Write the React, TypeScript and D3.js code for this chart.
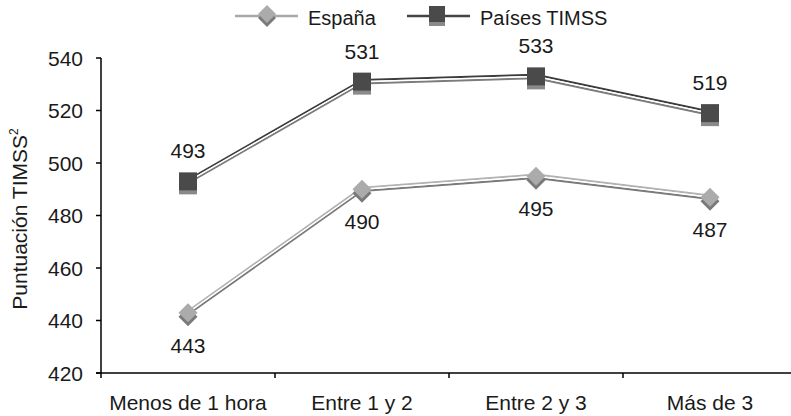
import React from "react";
import * as d3 from "d3";

const categories = ["Menos de 1 hora", "Entre 1 y 2", "Entre 2 y 3", "Más de 3"];
const espana = [443, 490, 495, 487];
const timss = [493, 531, 533, 519];
const yTicks = [420, 440, 460, 480, 500, 520, 540];
const seriesNames = ["España", "Países TIMSS"];

const W = 791;
const H = 416;
const FONT = "'Liberation Sans', Arial, Helvetica, sans-serif";
const TXT = "#1a1a1a";
const FS = 21;

export default function App() {
  const x = d3.scaleBand<string>().domain(categories).range([101, 797]);
  const y = d3.scaleLinear().domain([420, 540]).range([373, 58]);
  const cx = (c: string) => (x(c) as number) + x.bandwidth() / 2;
  const line = d3
    .line<number>()
    .x((_, i) => cx(categories[i]))
    .y((v) => y(v));

  const tube = (vals: number[], top: string, bottom: string, key: string) => {
    const d = line(vals) as string;
    return (
      <g key={key}>
        <path d={d} transform="translate(0,1.8)" fill="none" stroke={bottom} strokeWidth={2} strokeLinejoin="round" />
        <path d={d} transform="translate(0,-1.6)" fill="none" stroke={top} strokeWidth={2} strokeLinejoin="round" />
        <path d={d} fill="none" stroke="#ffffff" strokeWidth={1.4} strokeLinejoin="round" />
      </g>
    );
  };

  const diamond = (px: number, py: number, r: number, key: string) => (
    <g key={key}>
      <path d={`M${px},${py - r + 4}L${px + r},${py + 4}L${px},${py + r + 4}L${px - r},${py + 4}Z`} fill="#7a7a7a" />
      <path d={`M${px},${py - r}L${px + r},${py}L${px},${py + r}L${px - r},${py}Z`} fill="#ababab" />
    </g>
  );
  const square = (px: number, py: number, s: number, key: string) => (
    <g key={key}>
      <rect x={px - s / 2} y={py - s / 2 + 4} width={s} height={s} fill="#8a8a8a" />
      <rect x={px - s / 2} y={py - s / 2} width={s} height={s} fill="#4a4a4a" />
    </g>
  );

  const boundaries = categories.map((c) => x(c) as number).concat([(x(categories[3]) as number) + x.bandwidth()]);

  return (
    <svg width={W} height={H} style={{ position: "absolute", left: 0, top: 0, background: "#fff" }} fontFamily={FONT}>
      {/* legend */}
      <line x1={235} x2={298} y1={16} y2={16} stroke="#a8a8a8" strokeWidth={2.5} />
      {diamond(267, 14, 9, "lgd1")}
      <text x={308} y={25} fontSize={20} fill={TXT}>{seriesNames[0]}</text>
      <line x1={407} x2={470} y1={16} y2={16} stroke="#444" strokeWidth={2.5} />
      {square(437, 14, 16, "lgd2")}
      <text x={480} y={25} fontSize={20} fill={TXT}>{seriesNames[1]}</text>

      {/* y axis */}
      <line x1={101} x2={101} y1={y(540)} y2={y(420)} stroke="#000" strokeWidth={1.5} />
      {yTicks.map((t) => (
        <g key={t}>
          <line x1={96} x2={101} y1={y(t)} y2={y(t)} stroke="#000" strokeWidth={1.5} />
          <text x={83} y={y(t)} dy="0.36em" textAnchor="end" fontSize={FS} fill={TXT}>{t}</text>
        </g>
      ))}
      <text transform={`translate(27,${219}) rotate(-90)`} textAnchor="middle" fontSize={21} fill={TXT}>
        Puntuación TIMSS<tspan fontSize={12} dy={-9}>2</tspan>
      </text>

      {/* x axis */}
      <line x1={96} x2={W} y1={y(420)} y2={y(420)} stroke="#000" strokeWidth={1.5} />
      {boundaries.map((b, i) => (
        <line key={i} x1={b} x2={b} y1={y(420)} y2={y(420) + 5} stroke="#000" strokeWidth={1.5} />
      ))}
      {categories.map((c) => (
        <text key={c} x={cx(c)} y={410} textAnchor="middle" fontSize={FS} fill={TXT}>{c}</text>
      ))}

      {/* series */}
      {tube(timss, "#3c3c3c", "#7c7c7c", "t")}
      {tube(espana, "#b2b2b2", "#7a7a7a", "e")}
      {timss.map((v, i) => square(cx(categories[i]), y(v), 18, "ts" + i))}
      {espana.map((v, i) => diamond(cx(categories[i]), y(v), 9.5, "es" + i))}

      {timss.map((v, i) => (
        <text key={"tl" + i} x={cx(categories[i])} y={y(v) - 23} textAnchor="middle" fontSize={FS} fill={TXT}>{v}</text>
      ))}
      {espana.map((v, i) => (
        <text key={"el" + i} x={cx(categories[i])} y={y(v) + 40} textAnchor="middle" fontSize={FS} fill={TXT}>{v}</text>
      ))}
    </svg>
  );
}
